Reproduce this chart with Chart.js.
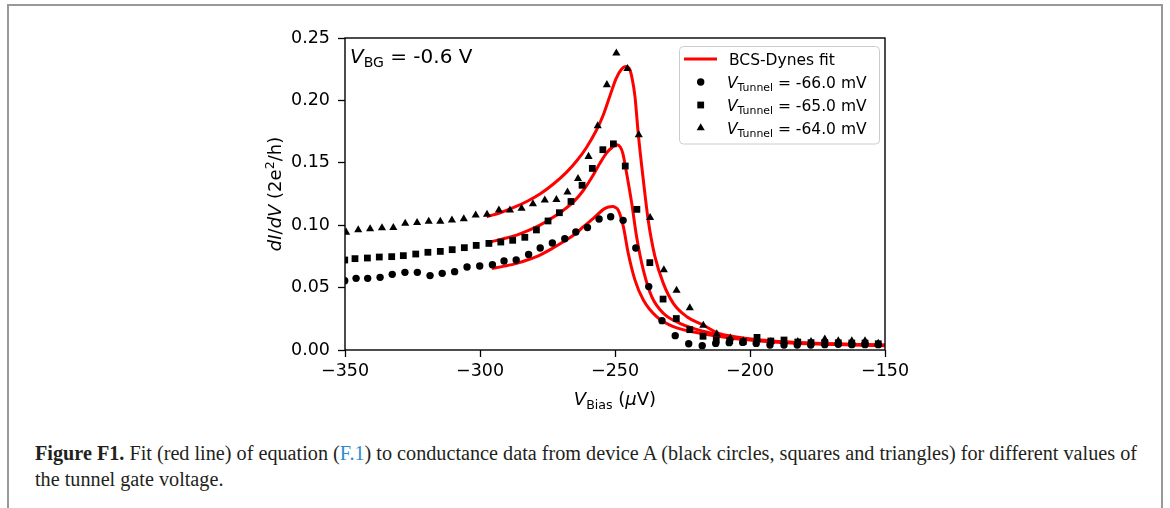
<!DOCTYPE html>
<html><head><meta charset="utf-8">
<script src="https://cdn.jsdelivr.net/npm/chart.js@4.4.0/dist/chart.umd.min.js"></script>
<style>
html,body{margin:0;padding:0;background:#fff;}
body{width:1170px;height:508px;position:relative;overflow:hidden;}
#frame{position:absolute;left:7px;top:4px;width:1156px;height:600px;border:2px solid #999;box-sizing:border-box;}
#wrap{position:absolute;left:0;top:0;width:1170px;height:420px;}
#cap{position:absolute;left:35px;top:441px;font-family:'Liberation Serif',serif;font-size:20px;color:#231f20;white-space:nowrap;transform-origin:0 0;line-height:25.5px;}
#cap b{font-weight:bold;}
#cap .ref{color:#2a8ccf;}
</style></head>
<body>
<div id="frame"></div>
<div id="wrap"><canvas id="c" width="1170" height="420"></canvas></div>
<div id="cap"><span id="l1"><b>Figure F1.</b> Fit (red line) of equation (<span class="ref">F.1</span>) to conductance data from device A (black circles, squares and triangles) for different values of</span><br><span id="l2">the tunnel gate voltage.</span></div>
<script>
// ---- data ----
const circX = [-350.1,-345.9,-341.6,-337.0,-332.5,-327.8,-323.2,-318.5,-314.0,-309.4,-304.8,-300.1,-295.4,-291.1,-286.6,-282.0,-277.7,-273.2,-268.6,-264.5,-260.2,-255.9,-251.6,-247.0,-242.3,-237.5,-232.6,-227.7,-222.7,-217.7,-212.7,-207.7,-202.7,-197.7,-192.6,-187.4,-182.5,-177.5,-172.3,-167.3,-162.3,-157.4,-152.5];
const circY = [0.0555,0.0574,0.0574,0.0582,0.0606,0.0622,0.0622,0.0596,0.0614,0.0628,0.0665,0.0673,0.0684,0.0713,0.0721,0.0766,0.0817,0.0857,0.0892,0.0946,0.0982,0.1050,0.1068,0.1039,0.0817,0.0508,0.0235,0.0115,0.0050,0.0035,0.0053,0.0059,0.0061,0.0053,0.0040,0.0040,0.0040,0.0040,0.0043,0.0046,0.0043,0.0043,0.0043];
const sqX = [-350.1,-346.3,-341.7,-337.3,-332.7,-328.4,-323.8,-319.3,-314.7,-310.3,-305.8,-301.4,-296.7,-292.3,-287.9,-283.4,-279.1,-274.8,-270.6,-266.3,-262.2,-258.4,-254.5,-250.6,-246.2,-241.9,-237.1,-232.2,-227.3,-222.3,-217.4,-212.5,-207.5,-202.5,-197.4,-192.3,-187.4,-182.3,-177.4,-172.3,-167.3,-162.3,-157.4,-152.5];
const sqY = [0.0721,0.0732,0.0737,0.0745,0.0748,0.0756,0.0769,0.0783,0.0790,0.0804,0.0820,0.0838,0.0854,0.0865,0.0879,0.0903,0.0962,0.1034,0.1100,0.1190,0.1320,0.1455,0.1605,0.1652,0.1474,0.1127,0.0700,0.0408,0.0252,0.0163,0.0110,0.0080,0.0075,0.0067,0.0101,0.0072,0.0080,0.0064,0.0059,0.0060,0.0058,0.0056,0.0056,0.0050];
const triX = [-349.6,-345.1,-340.7,-336.3,-332.1,-327.7,-323.3,-319.0,-314.7,-310.4,-306.0,-301.6,-297.4,-293.0,-288.9,-284.6,-280.4,-276.0,-271.7,-267.6,-263.7,-259.8,-256.4,-253.0,-249.5,-245.4,-241.2,-237.0,-231.9,-227.2,-222.3,-217.3,-212.3,-207.3,-202.5,-197.3,-192.3,-187.4,-182.3,-177.4,-172.3,-167.3,-162.3,-157.4,-152.5];
const triY = [0.0943,0.0962,0.0970,0.0978,0.0980,0.1015,0.1020,0.1030,0.1030,0.1040,0.1050,0.1080,0.1086,0.1120,0.1120,0.1135,0.1170,0.1200,0.1204,0.1265,0.1372,0.1550,0.1795,0.2125,0.2378,0.2254,0.1723,0.1060,0.0641,0.0478,0.0337,0.0197,0.0128,0.0094,0.0072,0.0080,0.0067,0.0067,0.0067,0.0067,0.0086,0.0072,0.0072,0.0072,0.0053];
const fitTriX = [-297.5,-292.5,-287.7,-282.5,-277.8,-272.8,-267.9,-264.0,-260.5,-256.8,-254.3,-251.9,-249.6,-247.6,-246.0,-244.7,-243.6,-242.6,-241.4,-239.5,-237.7,-235.2,-232.1,-228.4,-223.4,-217.3,-212.3,-205.0,-196.0,-185.0,-170.0,-160.0,-150.0];
const fitTriY = [0.1068,0.1100,0.1140,0.1192,0.1250,0.1330,0.1425,0.1520,0.1625,0.1765,0.1885,0.2035,0.2175,0.2250,0.2272,0.2255,0.2170,0.2030,0.1736,0.1360,0.1040,0.0748,0.0534,0.0374,0.0267,0.0200,0.0140,0.0105,0.0080,0.0062,0.0050,0.0045,0.0041];
const fitSqX = [-295.7,-291.0,-286.4,-282.0,-277.8,-273.5,-269.1,-265.0,-261.7,-258.0,-255.6,-253.1,-251.0,-249.3,-248.0,-247.1,-245.7,-243.8,-242.0,-239.5,-236.4,-232.1,-226.0,-217.3,-210.0,-200.0,-190.0,-175.0,-160.0,-150.0];
const fitSqY = [0.0868,0.0893,0.0921,0.0958,0.1000,0.1055,0.1120,0.1195,0.1280,0.1405,0.1496,0.1580,0.1625,0.1645,0.1625,0.1576,0.1416,0.1175,0.0908,0.0640,0.0427,0.0294,0.0214,0.0150,0.0115,0.0085,0.0068,0.0052,0.0043,0.0038];
const fitCircX = [-295.7,-291.0,-286.4,-282.0,-277.8,-273.5,-269.1,-265.0,-261.7,-258.0,-253.7,-251.0,-249.8,-248.8,-246.9,-245.1,-242.6,-239.5,-234.6,-228.4,-217.3,-210.0,-200.0,-190.0,-175.0,-160.0,-150.0];
const fitCircY = [0.0654,0.0672,0.0694,0.0725,0.0761,0.0810,0.0868,0.0925,0.0988,0.1055,0.1135,0.1149,0.1142,0.1120,0.0988,0.0775,0.0560,0.0400,0.0267,0.0187,0.0130,0.0105,0.0080,0.0063,0.0048,0.0040,0.0035];
const xTicks = [-350,-300,-250,-200,-150];
const yTicks = [0.00,0.05,0.10,0.15,0.20,0.25];
const legendLabels = ['BCS-Dynes fit','-66.0 mV','-65.0 mV','-64.0 mV'];

const pts = (xs, ys) => xs.map((x,i)=>({x:x, y:ys[i]}));
const FONT = "'DejaVu Sans', sans-serif";
Chart.defaults.font.family = FONT;
Chart.defaults.color = '#000';

function rich(ctx, segs, x, y, align){
  const F = s => (s.it ? 'italic ' : '') + s.sz + 'px ' + FONT;
  let w = 0;
  segs.forEach(s => { ctx.font = F(s); s.w = ctx.measureText(s.t).width; w += s.w; });
  let cx = align === 'center' ? x - w/2 : x;
  ctx.textAlign = 'left'; ctx.textBaseline = 'alphabetic';
  segs.forEach(s => { ctx.font = F(s); ctx.fillText(s.t, cx, y + (s.dy||0)); cx += s.w; });
}

const deco = {
  id: 'deco',
  afterDraw(chart){
    const ctx = chart.ctx, a = chart.chartArea;
    ctx.save();
    ctx.strokeStyle = '#000'; ctx.lineWidth = 1.4;
    ctx.strokeRect(a.left, a.top, a.right - a.left, a.bottom - a.top);
    ctx.fillStyle = '#000';
    rich(ctx, [{t:'V',it:1,sz:18},{t:'Bias',sz:12.6,dy:3.6},{t:' (',sz:18},{t:'\u03bc',it:1,sz:18},{t:'V)',sz:18}], (a.left+a.right)/2, 405, 'center');
    ctx.save();
    ctx.translate(281, (a.top+a.bottom)/2);
    ctx.rotate(-Math.PI/2);
    rich(ctx, [{t:'dI',it:1,sz:18},{t:'/',sz:18},{t:'dV',it:1,sz:18},{t:' (2e',sz:18},{t:'2',sz:12.6,dy:-7},{t:'/h)',sz:18}], 0, 0, 'center');
    ctx.restore();
    rich(ctx, [{t:'V',it:1,sz:20},{t:'BG',sz:14,dy:4},{t:' = -0.6 V',sz:20}], 350, 63, 'left');
    const lx = 679.5, ly = 46.5, lw = 200, lh = 97.5, r = 4;
    ctx.beginPath();
    ctx.moveTo(lx+r, ly); ctx.lineTo(lx+lw-r, ly); ctx.arcTo(lx+lw, ly, lx+lw, ly+r, r);
    ctx.lineTo(lx+lw, ly+lh-r); ctx.arcTo(lx+lw, ly+lh, lx+lw-r, ly+lh, r);
    ctx.lineTo(lx+r, ly+lh); ctx.arcTo(lx, ly+lh, lx, ly+lh-r, r);
    ctx.lineTo(lx, ly+r); ctx.arcTo(lx, ly, lx+r, ly, r); ctx.closePath();
    ctx.fillStyle = 'rgba(255,255,255,0.8)'; ctx.fill();
    ctx.strokeStyle = '#cccccc'; ctx.lineWidth = 1; ctx.stroke();
    ctx.strokeStyle = '#ff0000'; ctx.lineWidth = 3;
    ctx.beginPath(); ctx.moveTo(684, 59); ctx.lineTo(717, 59); ctx.stroke();
    ctx.fillStyle = '#000';
    rich(ctx, [{t:legendLabels[0],sz:15.5}], 729, 64.5, 'left');
    const styles = [['circle',3.7],['rect',4.8],['triangle',4.7]];
    [82, 105, 128].forEach((yy, i) => {
      ctx.fillStyle = '#000'; ctx.strokeStyle = '#000';
      Chart.helpers.drawPoint(ctx, {pointStyle: styles[i][0], radius: styles[i][1], rotation: 0, borderWidth: 0}, 700.7, yy);
      ctx.fillStyle = '#000';
      rich(ctx, [{t:'V',it:1,sz:15.5},{t:'Tunnel',sz:10.9,dy:3.2},{t:' = ' + legendLabels[i+1],sz:15.5}], 727, yy + 5.6, 'left');
    });
    ctx.restore();
  }
};

const markerDs = (xs, ys, style, r) => ({
  type:'scatter', data: pts(xs, ys), showLine:false, pointStyle: style, pointRadius: r,
  pointBackgroundColor:'#000', pointBorderColor:'#000', pointBorderWidth:0, order: 0
});
const fitDs = (xs, ys) => ({
  type:'line', data: pts(xs, ys), showLine:true, borderColor:'#ff0000', borderWidth:3,
  pointRadius:0, fill:false, cubicInterpolationMode:'monotone', order: 1
});

new Chart(document.getElementById('c'), {
  type: 'scatter',
  data: { datasets: [
    markerDs(circX, circY, 'circle', 3.7),
    markerDs(sqX, sqY, 'rect', 4.8),
    markerDs(triX, triY, 'triangle', 4.7),
    fitDs(fitCircX, fitCircY),
    fitDs(fitSqX, fitSqY),
    fitDs(fitTriX, fitTriY)
  ]},
  options: {
    responsive: false, animation: false, devicePixelRatio: 1,
    layout: { padding: { left: 0, top: 38, right: 285, bottom: 0 } },
    plugins: { legend: { display: false }, tooltip: { enabled: false } },
    scales: {
      x: {
        type: 'linear', min: -350, max: -150,
        afterFit(s){ s.height = 70; },
        afterBuildTicks(s){ s.ticks = xTicks.map(v => ({value: v})); },
        ticks: { font: { size: 17.5 }, color: '#000', padding: 4, maxRotation: 0,
          callback: v => (v < 0 ? '\u2212' + Math.abs(v) : String(v)) },
        grid: { display: true, drawOnChartArea: false, drawTicks: true, tickLength: 7, tickWidth: 1.3, tickColor: '#000' },
        border: { display: false }
      },
      y: {
        type: 'linear', min: 0, max: 0.25,
        afterFit(s){ s.width = 345; },
        afterBuildTicks(s){ s.ticks = yTicks.map(v => ({value: v})); },
        ticks: { font: { size: 17.5 }, color: '#000', padding: 8,
          callback: v => Number(v).toFixed(2) },
        grid: { display: true, drawOnChartArea: false, drawTicks: true, tickLength: 7, tickWidth: 1.3, tickColor: '#000' },
        border: { display: false }
      }
    }
  },
  plugins: [deco]
});

const cap = document.getElementById('cap');
const w1 = document.getElementById('l1').getBoundingClientRect().width;
cap.style.transform = 'scaleX(' + (1102 / w1) + ')';
</script>
</body></html>
